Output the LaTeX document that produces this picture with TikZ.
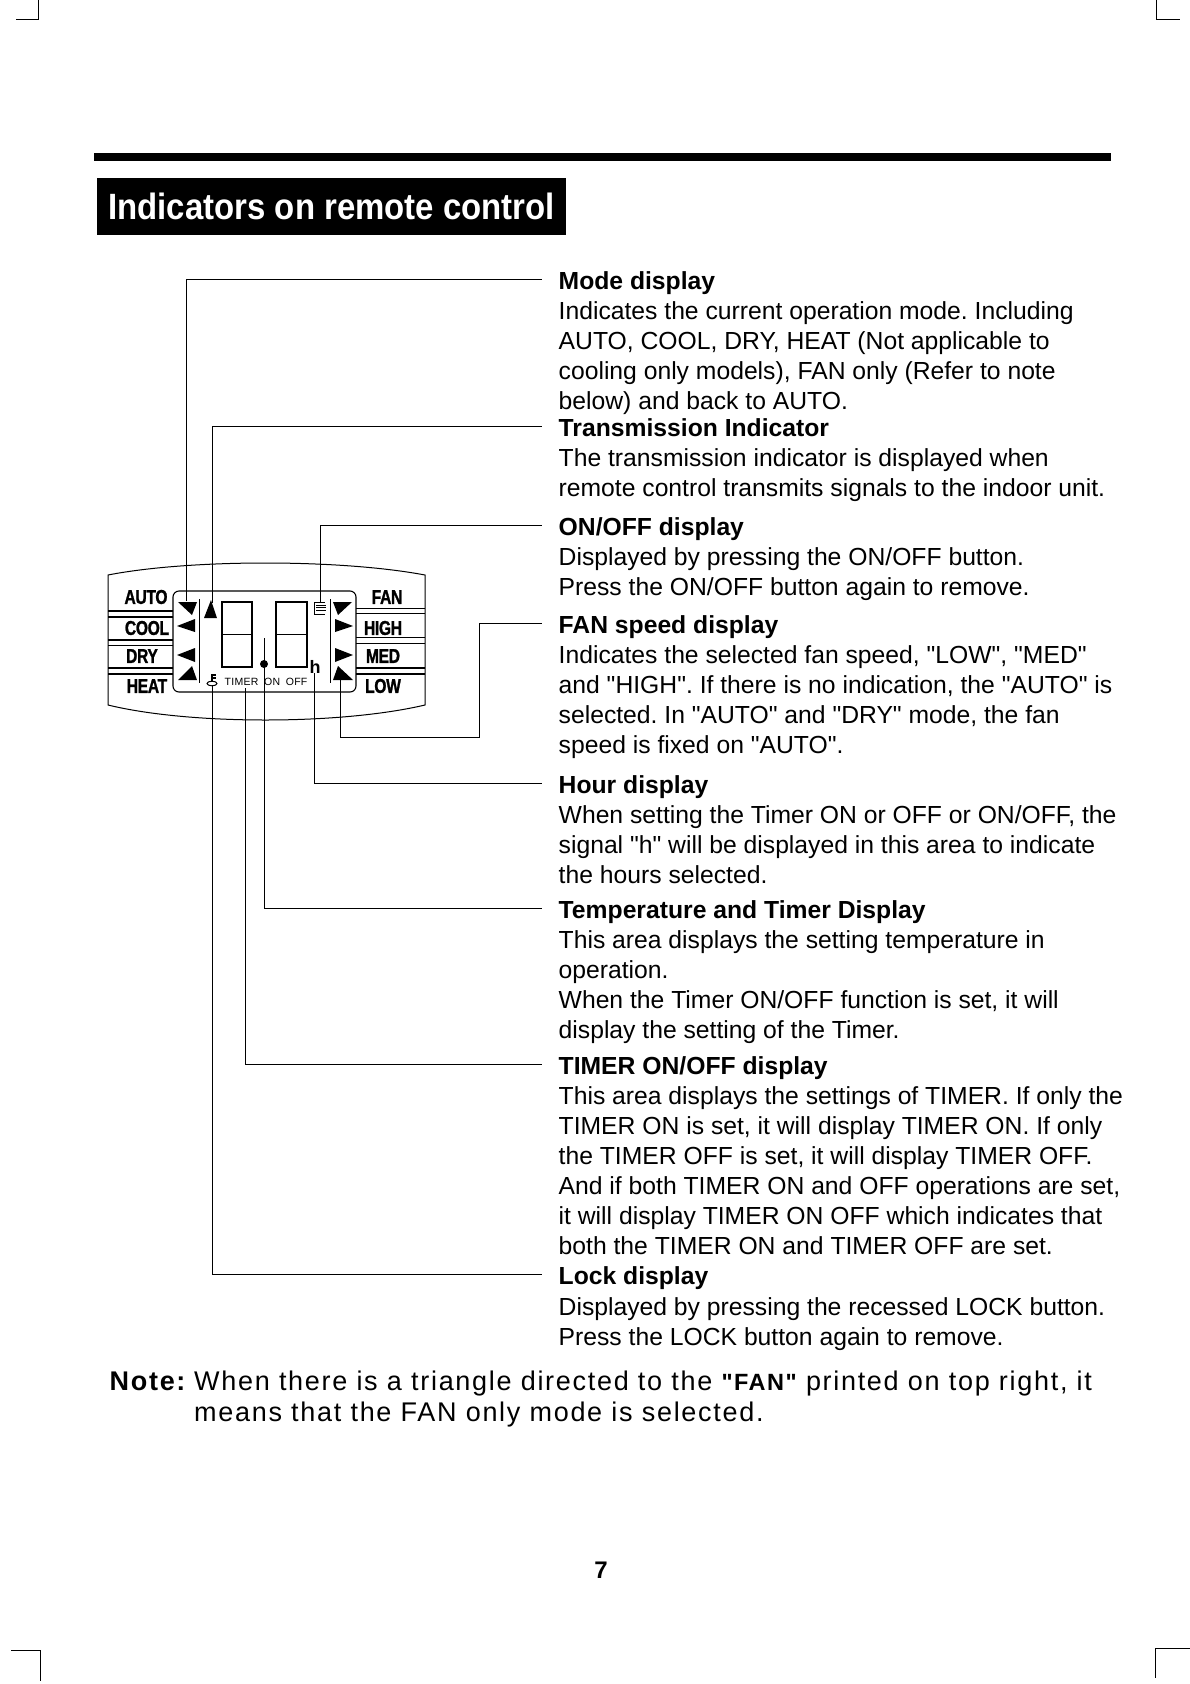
\documentclass[tikz,border=0pt]{standalone}
\usepackage{fontspec}
\setmainfont[Ligatures=TeXOff]{Liberation Sans}
\newfontfamily\panelfont[FakeStretch=0.78,LetterSpace=-1.5,FakeBold=1.2]{Liberation Sans Bold}
\newfontfamily\titlefont[FakeStretch=0.9]{Liberation Sans Bold}
\newfontfamily\lcdfont[LetterSpace=2.5,WordSpace=1.8]{Liberation Sans}
\newfontfamily\notefont[LetterSpace=6.3]{Liberation Sans}
\newfontfamily\notebold[LetterSpace=6.3]{Liberation Sans Bold}
\newcommand{\sz}[2]{\fontsize{#1}{#2}\selectfont\frenchspacing}
\tikzset{
  x=1pt,y=-1pt,
  head/.style={anchor=west,inner xsep=17pt,inner ysep=0pt,text height=25pt,text depth=5pt,font=\sz{24.7}{30}\bfseries},
  bodytext/.style={anchor=north west,inner sep=0pt,yshift=-0.7pt,align=left,font=\sz{24.7}{30}},
  leader/.style={draw=black,line width=0.8pt},
  lab/.style={inner sep=0pt,font=\panelfont\sz{20}{20}},
  tri/.style={fill=black,draw=none},
  bar/.style={line width=1.8pt},
  thin bar/.style={line width=0.8pt},
  digit/.style={draw=black,line width=1.2pt},
  crop/.style={line width=0.8pt}
}
\begin{document}
\begin{tikzpicture}
\useasboundingbox (0,0) rectangle (1190,1684);
% crop marks
\draw[crop] (16,19) -- (38.5,19) -- (38.5,0);
\draw[crop] (1156,0) -- (1156,19) -- (1180,19);
\draw[crop] (11,1650) -- (40,1650) -- (40,1681);
\draw[crop] (1190,1648) -- (1155,1648) -- (1155,1678);
% header
\fill (94,152.5) rectangle (1111,161);
\node[fill=black,text=white,inner sep=0pt,minimum width=469pt,minimum height=57pt,anchor=north west,font=\titlefont\sz{36.6}{37}] (title) at (97,178) {Indicators on remote control};
% panel
\draw[line width=1pt] (108,575) .. controls (190,559) and (340,559) .. (425,575) -- (425,705) .. controls (340,725) and (190,725) .. (108,705) -- cycle;
\draw[line width=1.1pt,fill=white,rounded corners=6pt] (173,591) rectangle (356,692);
\foreach \y in {611,617,640,668,674} \draw[bar] (108,\y) -- (173,\y);
\draw[thin bar] (108,645) -- (173,645);
\foreach \y in {608,613,637,643} \draw[thin bar] (356,\y) -- (425,\y);
\foreach \y in {668,674} \draw[bar] (356,\y) -- (425,\y);
\node[lab] (auto) at (146,597) {AUTO};
\node[lab] (cool) at (147,628) {COOL};
\node[lab] (dry) at (142,656) {DRY};
\node[lab] (heat) at (147,686) {HEAT};
\node[lab] (fan) at (387,597) {FAN};
\node[lab] (high) at (383,628) {HIGH};
\node[lab] (med) at (383,656) {MED};
\node[lab] (low) at (383,686) {LOW};
% triangles
\fill[tri] (178,602) -- (197,602) -- (192,615) -- cycle;
\fill[tri] (177,626) -- (195,619) -- (195,632) -- cycle;
\fill[tri] (177,655) -- (195,648) -- (195,662) -- cycle;
\fill[tri] (178,680) -- (197,680) -- (192,666) -- cycle;
\fill[tri] (204,618) -- (217,618) -- (211,600) -- cycle;
\fill[tri] (333,602) -- (352,602) -- (338,615) -- cycle;
\fill[tri] (335,619) -- (353,626) -- (335,632) -- cycle;
\fill[tri] (335,648) -- (353,655) -- (335,662) -- cycle;
\fill[tri] (333,680) -- (353,680) -- (338,666) -- cycle;
\draw[line width=0.8pt] (199.5,599) -- (199.5,683);
\draw[line width=0.8pt] (330.5,599) -- (330.5,683);
% digits
\draw[digit] (222,602) rectangle (252,667);
\draw[line width=1.6pt] (222,634.5) -- (252,634.5);
\draw[digit] (276,602) rectangle (307,667);
\draw[line width=1.6pt] (276,634.5) -- (307,634.5);
\fill (264,664) circle (4);
% transmit icon
\draw[line width=0.8pt] (314,602) -- (325,602) (314,602) -- (314,614.5) -- (325,614.5);
\foreach \y in {605,607.5,610} \draw[line width=0.8pt] (316,\y) -- (326,\y);
% hour, timer, key
\node[inner sep=0pt,font=\sz{18}{18}\bfseries] (hsym) at (315,667) {h};
\node[inner sep=0pt,font=\lcdfont\sz{10.5}{11}] (timer) at (266,682) {TIMER ON OFF};
\draw[line width=1pt] (212,683.5) ellipse (5 and 2.3);
\draw[line width=1.2pt] (212,681) -- (212,675) -- (216,675) (212,678) -- (215.5,678);
% anchor points of the leaders
\coordinate (modeT) at (186.5,601);
\coordinate (transT) at (212,603);
\coordinate (onoffT) at (320,602);
\coordinate (fanB) at (479,737);
\coordinate (fanT) at (340,678);
\coordinate (hourT) at (314,673);
\coordinate (tempT) at (264,638);
\coordinate (timerT) at (245.5,688);
\coordinate (lockT) at (212,685);
% texts
\node[head] (modeH) at (541.5,279.5) {Mode display};
\node[bodytext] (modeB) at (558.5,297.5) {\strut Indicates the current operation mode. Including\\AUTO, COOL, DRY, HEAT (Not applicable to\\cooling only models), FAN only (Refer to note\\below) and back to AUTO.};
\node[head] (transH) at (541.5,426) {Transmission Indicator};
\node[bodytext] (transB) at (558.5,444.5) {\strut The transmission indicator is displayed when\\remote control transmits signals to the indoor unit.};
\node[head] (onoffH) at (541.5,525.5) {ON/OFF display};
\node[bodytext] (onoffB) at (558.5,543.5) {\strut Displayed by pressing the ON/OFF button.\\Press the ON/OFF button again to remove.};
\node[head] (fanH) at (541.5,623) {FAN speed display};
\node[bodytext] (fanD) at (558.5,641.5) {\strut Indicates the selected fan speed, "LOW", "MED"\\and "HIGH". If there is no indication, the "AUTO" is\\selected. In "AUTO" and "DRY" mode, the fan\\speed is fixed on "AUTO".};
\node[head] (hourH) at (541.5,783.5) {Hour display};
\node[bodytext] (hourB) at (558.5,801.5) {\strut When setting the Timer ON or OFF or ON/OFF, the\\signal "h" will be displayed in this area to indicate\\the hours selected.};
\node[head] (tempH) at (541.5,908) {Temperature and Timer Display};
\node[bodytext] (tempB) at (558.5,926.5) {\strut This area displays the setting temperature in\\operation.\\When the Timer ON/OFF function is set, it will\\display the setting of the Timer.};
\node[head] (timerH) at (541.5,1064) {TIMER ON/OFF display};
\node[bodytext] (timerB) at (558.5,1082.5) {\strut This area displays the settings of TIMER. If only the\\TIMER ON is set, it will display TIMER ON. If only\\the TIMER OFF is set, it will display TIMER OFF.\\And if both TIMER ON and OFF operations are set,\\it will display TIMER ON OFF which indicates that\\both the TIMER ON and TIMER OFF are set.};
\node[head] (lockH) at (541.5,1274.5) {Lock display};
\node[bodytext] (lockB) at (558.5,1293.5) {\strut Displayed by pressing the recessed LOCK button.\\Press the LOCK button again to remove.};
% leaders
\draw[leader] (modeH.west) -| (modeT);
\draw[leader] (transH.west) -| (transT);
\draw[leader] (onoffH.west) -| (onoffT);
\draw[leader] (fanH.west) -| (fanB) -| (fanT);
\draw[leader] (hourH.west) -| (hourT);
\draw[leader] (tempH.west) -| (tempT);
\draw[leader] (timerH.west) -| (timerT);
\draw[leader] (lockH.west) -| (lockT);
% note
\node[anchor=base west,inner sep=0pt,font=\notebold\sz{27}{27}] (noteL) at (109.5,1390) {Note:};
\node[anchor=base west,inner sep=0pt,font=\notefont\sz{27}{27}] (noteA) at (194,1390) {When there is a triangle directed to the {\notebold\sz{23.5}{27}"FAN"} printed on top right, it};
\node[anchor=base west,inner sep=0pt,font=\notefont\sz{27}{27}] (noteB) at (194,1421) {means that the FAN only mode is selected.};
\node[anchor=base,inner sep=0pt,font=\sz{24}{24}\bfseries] (page) at (601,1578) {7};
\end{tikzpicture}
\end{document}
